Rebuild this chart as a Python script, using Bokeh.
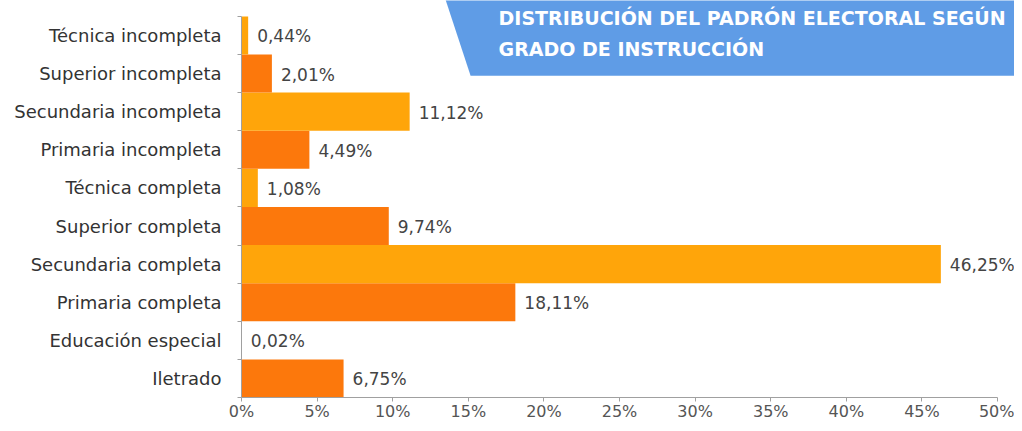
from bokeh.plotting import figure
from bokeh.models import FixedTicker, CustomJSTickFormatter, Range1d, ColumnDataSource
from bokeh.core.properties import value
from bokeh.embed import file_html
from bokeh.resources import INLINE

# ---- data (bottom to top) ----
categories = ["Iletrado", "Educación especial", "Primaria completa", "Secundaria completa",
              "Superior completa", "Técnica completa", "Primaria incompleta",
              "Secundaria incompleta", "Superior incompleta", "Técnica incompleta"]
percentages = [6.75, 0.02, 18.11, 46.25, 9.74, 1.08, 4.49, 11.12, 2.01, 0.44]
x_ticks = [0, 5, 10, 15, 20, 25, 30, 35, 40, 45, 50]
title_lines = ["DISTRIBUCIÓN DEL PADRÓN ELECTORAL SEGÚN", "GRADO DE INSTRUCCIÓN"]

YELLOW = "#FFA50A"
ORANGE = "#FC780C"
FONT = "DejaVu Sans"

n = len(categories)
ys = [i + 0.5 for i in range(n)]
colors = [ORANGE if i % 2 == 0 else YELLOW for i in range(n)]
labels = [f"{v:.2f}".replace(".", ",") + "%" for v in percentages]

src = ColumnDataSource(dict(y=ys, v=percentages, c=colors, lab=labels))

W, H = 1014, 423
p = figure(width=W, height=H, output_backend="svg", toolbar_location=None,
           x_range=Range1d(0, 51.12), y_range=Range1d(0, 10.417),
           min_border_left=241, min_border_right=0, min_border_top=0, min_border_bottom=23)
p.outline_line_color = None
p.xgrid.visible = False
p.ygrid.visible = False
p.background_fill_color = "white"
p.border_fill_color = "white"

# title box (decorative)
p.patch(x=[13.36, 52, 52, 15.15], y=[10.6, 10.6, 8.44, 8.44], color="#5F9CE6", line_color=None)
p.text(x=[17.0, 17.0], y=[9.97, 9.14], text=title_lines, text_color="white",
       text_font=value(FONT), text_font_style="bold", text_font_size="19px",
       text_baseline="middle", text_align="left")

p.hbar(y="y", height=1.0, left=0, right="v", color="c", line_color=None, source=src)
p.text(x="v", y="y", text="lab", source=src, x_offset=9, y_offset=1,
       text_font=value(FONT), text_font_size="17px", text_color="#444444",
       text_baseline="middle", text_align="left")

# axes
xa = p.xaxis[0]
xa.ticker = FixedTicker(ticks=x_ticks)
xa.formatter = CustomJSTickFormatter(code="return tick.toFixed(0) + '%';")
xa.bounds = (0, 50)
xa.axis_line_color = "#a0a0a0"
xa.major_tick_line_color = "#a0a0a0"
xa.major_tick_out = 4
xa.major_tick_in = 0
xa.minor_tick_line_color = None
xa.major_label_standoff = 0
xa.major_label_text_font = FONT
xa.major_label_text_font_size = "16px"
xa.major_label_text_color = "#555555"

ya = p.yaxis[0]
ya.ticker = FixedTicker(ticks=ys, minor_ticks=list(range(n + 1)))
ya.formatter = CustomJSTickFormatter(args=dict(names=categories),
                                     code="return names[Math.floor(tick)];")
ya.bounds = (0, n)
ya.axis_line_color = "#a0a0a0"
ya.major_tick_line_color = None
ya.major_tick_out = 0
ya.major_tick_in = 0
ya.minor_tick_line_color = "#a0a0a0"
ya.minor_tick_out = 4
ya.minor_tick_in = 0
ya.major_label_standoff = 16
ya.major_label_text_font = FONT
ya.major_label_text_font_size = "18px"
ya.major_label_text_color = "#333333"

open("out.html", "w").write(file_html(p, INLINE))
